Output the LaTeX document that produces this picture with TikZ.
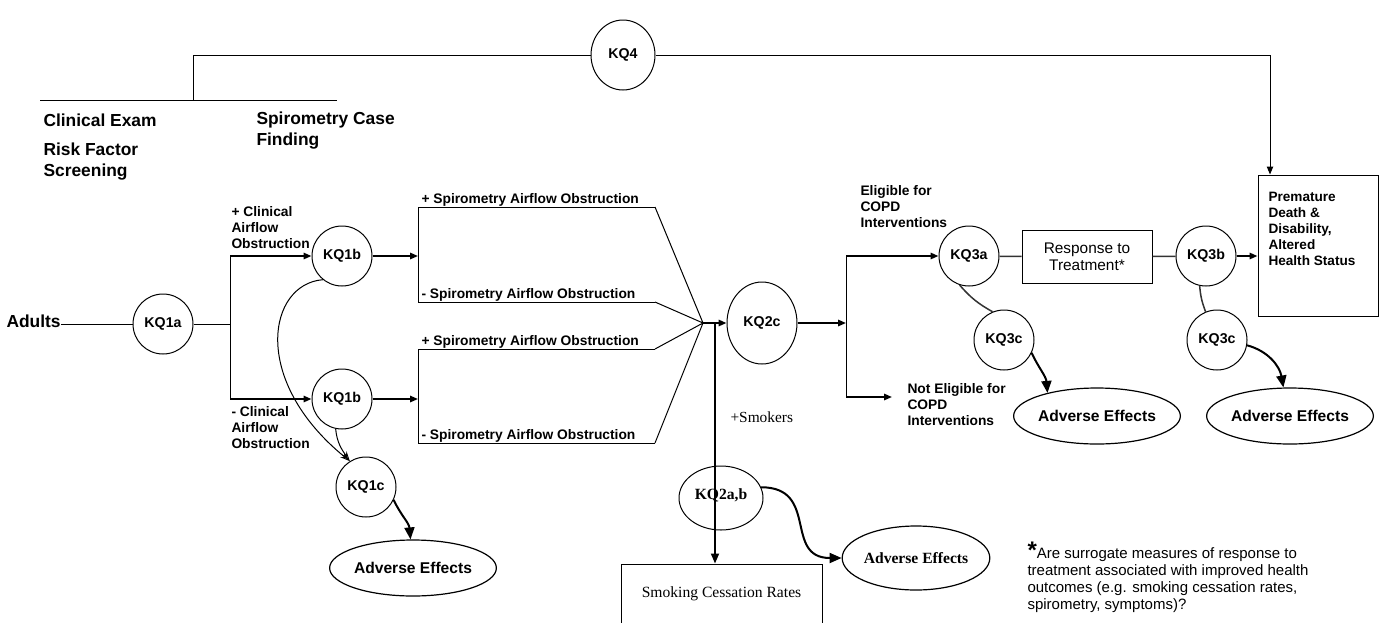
\documentclass[tikz,border=0pt]{standalone}
\usepackage{fontspec}
\setmainfont{Liberation Sans}
\newfontfamily\tnrfont{Liberation Serif}
\usetikzlibrary{arrows.meta,shapes.geometric}

\begin{document}
\begin{tikzpicture}[x=0.5pt,y=-0.5pt,line width=0.5pt,
  kq/.style={circle,draw,minimum size=30pt,inner sep=0pt,font=\bfseries\fontsize{7.1}{8}\selectfont},
  adv/.style={ellipse,draw,line width=0.6pt,minimum width=77pt,minimum height=28pt,inner sep=0pt,font=\bfseries\fontsize{7.8}{9}\selectfont},
  head/.style={anchor=west,align=left,inner sep=0pt,font=\bfseries\fontsize{8.7}{10.5}\selectfont},
  lbl/.style={anchor=west,align=left,inner sep=0pt,font=\bfseries\fontsize{6.9}{8}\selectfont},
  boxed/.style={draw,inner sep=0pt},
  flow/.style={line width=0.9pt,-{Triangle[length=4pt,width=3.2pt]}},
  curvy/.style={line width=1pt,-{Triangle[length=6pt,width=5pt]}},
  loopy/.style={-{Stealth[open,length=5pt,width=3pt]}},
  link/.style={line width=0.75pt,black!80}
]
\useasboundingbox (0,0) rectangle (1382,622);
\clip (0,0) rectangle (1382,622);

% screening row
\draw (43,120) node[head] (exam) {Clinical Exam};
\draw (43,162) node[head] (risk) {Risk Factor\\Screening};
\draw (256,131) node[head] (spiro) {Spirometry Case\\Finding};
\draw (623,55) node[kq,ellipse,minimum width=32pt,minimum height=35pt] (kq4) {KQ4};
\coordinate (tl) at (193,55);
\coordinate (tr) at (1270,55);
\coordinate (ul) at (40,100);
\coordinate (ur) at (337,100);
\draw (ul) -- (ur);
\draw (tl) -- (tl |- ul);
\draw (tl) -- (kq4);

% outcome box
\draw (1318,245.5) node[boxed,minimum width=60pt,minimum height=70.5pt] (death) {};
\draw (1268,192) node[lbl,anchor=north west,font=\bfseries\fontsize{6.8}{8}\selectfont] (deathtxt) {Premature\\Death \&\\Disability,\\Altered\\Health Status};
\draw[-{Triangle[length=4pt,width=3.2pt]}] (kq4) -- (tr) -- (tr |- death.north);

% clinical exam branch
\draw (6,321) node[head] (adults) {Adults};
\draw (163,324) node[kq] (kq1a) {KQ1a};
\draw (342,256) node[kq] (kq1bt) {KQ1b};
\draw (342,399) node[kq] (kq1bb) {KQ1b};
\draw (366,487) node[kq] (kq1c) {KQ1c};
\draw (413,568) node[adv] (advl) {Adverse Effects};
\coordinate (j1) at (230,324);
\draw (adults.east |- kq1a) -- (kq1a) -- (j1);
\draw (j1 |- kq1bt) -- (j1 |- kq1bb);
\draw[flow] (j1 |- kq1bt) -- (kq1bt);
\draw[flow] (j1 |- kq1bb) -- (kq1bb);
\draw (231,228) node[lbl] (clinp) {+ Clinical\\Airflow\\Obstruction};
\draw (231,428) node[lbl] (clinm) {- Clinical\\Airflow\\Obstruction};
\draw[loopy] (kq1bt.231) .. controls (268,284) and (250,380) .. (kq1c.122);
\draw[loopy] (kq1bb.258) to[out=-85,in=125] (kq1c.122);
\draw[curvy] (kq1c.-25) to[out=-65,in=95] (advl.95);

% spirometry brackets
\coordinate (b1) at (418,207);
\coordinate (b2) at (418,302);
\coordinate (b3) at (418,349);
\coordinate (b4) at (418,443);
\coordinate (e1) at (655,207);
\coordinate (e2) at (655,302);
\coordinate (e3) at (655,349);
\coordinate (e4) at (655,443);
\coordinate (conv) at (703,323);
\draw (e1) -- (b1) -- (b2) -- (e2);
\draw (e3) -- (b3) -- (b4) -- (e4);
\draw[flow] (kq1bt) -- (b1 |- kq1bt);
\draw[flow] (kq1bb) -- (b1 |- kq1bb);
\draw (421,203) node[lbl,anchor=base west] (sp1) {+ Spirometry Airflow Obstruction};
\draw (421,298) node[lbl,anchor=base west] (sp2) {- Spirometry Airflow Obstruction};
\draw (421,345) node[lbl,anchor=base west] (sp3) {+ Spirometry Airflow Obstruction};
\draw (421,439) node[lbl,anchor=base west] (sp4) {- Spirometry Airflow Obstruction};
\draw (e1) -- (conv) (e2) -- (conv) (e3) -- (conv) (e4) -- (conv);

% smoking cessation
\draw (762,323) node[kq,ellipse,minimum width=35pt,minimum height=41pt] (kq2c) {KQ2c};
\draw[flow] (conv) -- (kq2c);
\draw (721,498) node[ellipse,draw,minimum width=42pt,minimum height=32pt,inner sep=0pt,font=\tnrfont\bfseries\fontsize{7.8}{9}\selectfont] (kq2ab) {\raisebox{4pt}{KQ2a,b}};
\draw (721.5,594) node[boxed,minimum width=100.5pt,minimum height=30pt,font=\tnrfont\fontsize{7.8}{9}\selectfont] (smoke) {Smoking Cessation Rates};
\draw (916,558) node[adv,minimum width=71pt,minimum height=32pt,font=\tnrfont\bfseries\fontsize{7.8}{9}\selectfont] (adv2) {Adverse Effects};
\draw (730,417) node[anchor=west,inner sep=0pt,font=\tnrfont\fontsize{7.7}{9}\selectfont] (smk) {+Smokers};
\coordinate (j3) at (715,323);
\draw[line width=0.9pt,-{Triangle[length=5pt,width=4pt]}] (j3) -- (j3 |- smoke.north);
\draw[curvy] (kq2ab.15) to[out=0,in=180,looseness=1.4] (adv2.west);

% treatment branch
\draw (969,256) node[kq] (kq3a) {KQ3a};
\draw (1087,257) node[boxed,minimum width=65pt,minimum height=26.5pt,align=center,font=\fontsize{7.7}{8.5}\selectfont] (resp) {Response to\\Treatment*};
\draw (1206,256) node[kq] (kq3b) {KQ3b};
\draw (1004,340) node[kq] (kq3cm) {KQ3c};
\draw (1217,340) node[kq] (kq3cr) {KQ3c};
\draw (1097,416) node[adv] (advm) {Adverse Effects};
\draw (1290,416) node[adv] (advr) {Adverse Effects};
\coordinate (j2) at (846,323);
\coordinate (notel) at (892,397);
\draw[flow] (kq2c) -- (j2);
\draw (j2 |- kq3a) -- (j2 |- notel);
\draw[flow] (j2 |- kq3a) -- (kq3a);
\draw[flow] (j2 |- notel) -- (notel);
\draw (860,207) node[lbl] (elig) {Eligible for\\COPD\\Interventions};
\draw (907,405) node[lbl] (notelig) {Not Eligible for\\COPD\\Interventions};
\draw[link] (kq3a) -- (resp) -- (kq3b);
\draw[flow] (kq3b) -- (death.west |- kq3b);
\draw[link] (kq3a.252) to[bend right=10] (kq3cm.112);
\draw[link] (kq3b.258) to[bend right=8] (kq3cr.112);
\draw[curvy] (kq3cm.-25) to[out=-65,in=95] (advm.155);
\draw[curvy] (kq3cr.-10) to[out=-15,in=100] (advr.103);

% footnote
\draw (1027,541) node[anchor=north west,align=left,inner sep=0pt,font=\fontsize{7.5}{8.6}\selectfont] (note) {{\bfseries\large *}Are surrogate measures of response to\\treatment associated with improved health\\outcomes (e.g. smoking cessation rates,\\spirometry, symptoms)?};
\end{tikzpicture}
\end{document}
